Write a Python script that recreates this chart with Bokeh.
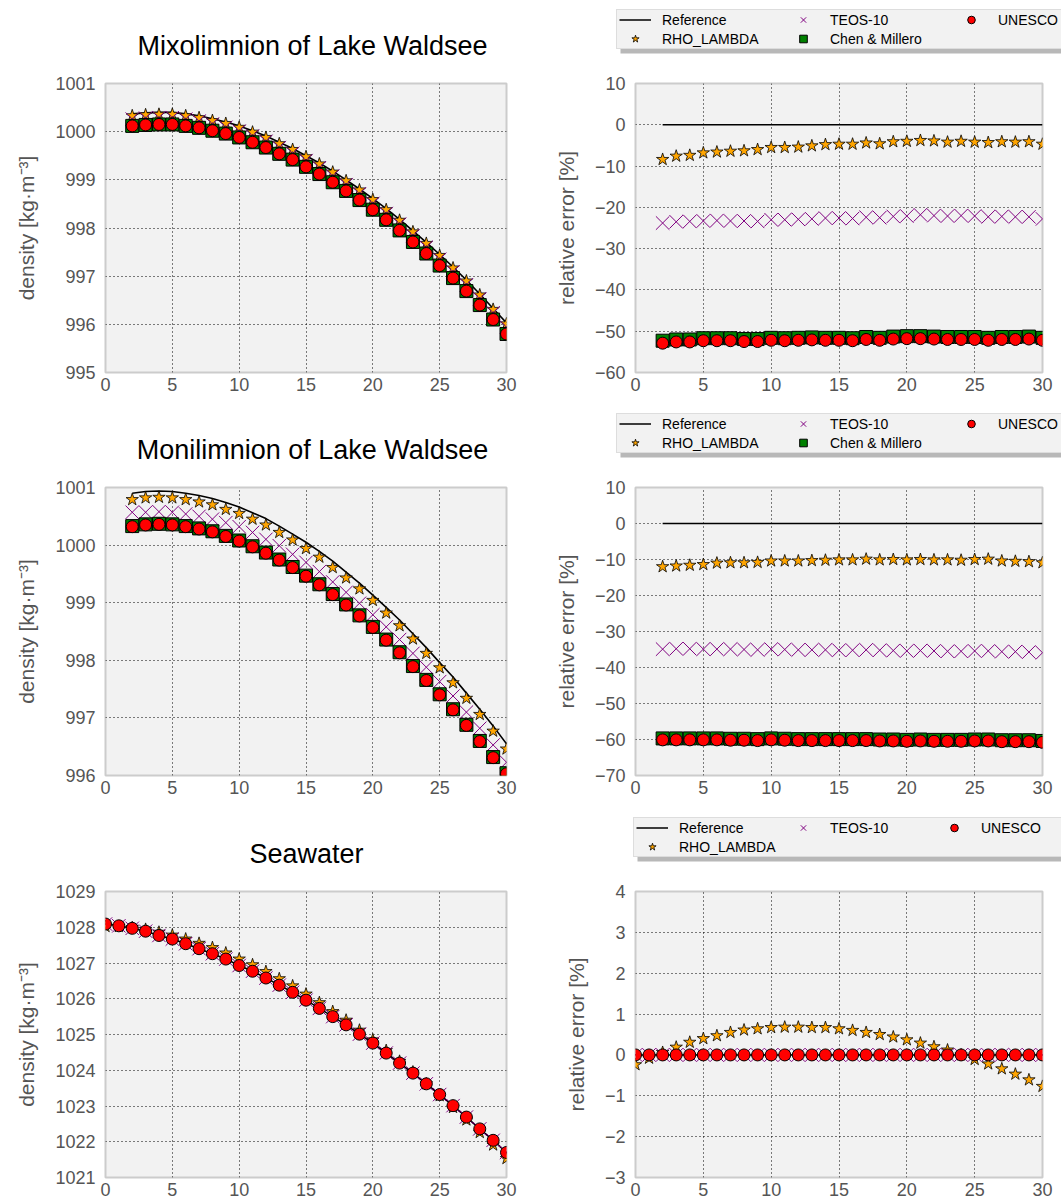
from bokeh.plotting import figure
from bokeh.models import (Range1d, FixedTicker, CustomJSTickFormatter, Legend, LegendItem, Label)
from bokeh.layouts import column, row
from bokeh.embed import file_html
from bokeh.resources import INLINE

# ---------------- data ----------------
T_lake = [2, 3, 4, 5, 6, 7, 8, 9, 10, 11, 12, 13, 14, 15, 16, 17, 18, 19, 20,
          21, 22, 23, 24, 25, 26, 27, 28, 29, 30]
T_sea = [0, 1, 2, 3, 4, 5, 6, 7, 8, 9, 10, 11, 12, 13, 14, 15, 16, 17, 18, 19, 20,
         21, 22, 23, 24, 25, 26, 27, 28, 29, 30]
x_ticks = [0, 5, 10, 15, 20, 25, 30]

# Mixolimnion density
mix_ref = [1000.37, 1000.39, 1000.40, 1000.40, 1000.37, 1000.33, 1000.27, 1000.20, 1000.12, 1000.02,
           999.91, 999.78, 999.65, 999.50, 999.35, 999.18, 999.00, 998.81, 998.61, 998.40,
           998.18, 997.94, 997.70, 997.45, 997.19, 996.92, 996.63, 996.33, 996.03]
mix_rho = [1000.33, 1000.35, 1000.36, 1000.36, 1000.33, 1000.29, 1000.23, 1000.17, 1000.09, 999.99,
           999.88, 999.75, 999.63, 999.48, 999.33, 999.16, 998.98, 998.79, 998.59, 998.38,
           998.16, 997.92, 997.68, 997.43, 997.17, 996.90, 996.61, 996.31, 996.01]
mix_teos = [1000.26, 1000.28, 1000.29, 1000.29, 1000.26, 1000.22, 1000.16, 1000.09, 1000.01, 999.91,
            999.80, 999.67, 999.55, 999.40, 999.25, 999.08, 998.90, 998.71, 998.51, 998.30,
            998.08, 997.84, 997.60, 997.35, 997.09, 996.82, 996.53, 996.24, 995.94]
mix_chen = [1000.12, 1000.14, 1000.15, 1000.15, 1000.12, 1000.08, 1000.02, 999.96, 999.88, 999.78,
            999.67, 999.54, 999.42, 999.27, 999.12, 998.95, 998.77, 998.58, 998.38, 998.17,
            997.95, 997.71, 997.47, 997.22, 996.96, 996.69, 996.40, 996.10, 995.80]
mix_unesco = [1000.12, 1000.14, 1000.15, 1000.15, 1000.12, 1000.08, 1000.02, 999.96, 999.88, 999.78,
              999.67, 999.54, 999.42, 999.27, 999.12, 998.95, 998.77, 998.58, 998.38, 998.17,
              997.95, 997.71, 997.47, 997.22, 996.96, 996.69, 996.40, 996.10, 995.80]

# Mixolimnion relative error [%]
mix_err_ref = [0.0] * 29
mix_err_rho = [-8.4, -7.6, -7.4, -6.8, -6.6, -6.4, -6.3, -6.0, -5.5, -5.5, -5.4, -5.1, -4.8, -4.7,
               -4.7, -4.4, -4.6, -4.1, -4.0, -3.8, -3.9, -4.2, -4.0, -4.2, -4.3, -4.1, -4.2, -4.1, -4.7]
mix_err_teos = [-23.8, -23.5, -23.4, -23.3, -23.2, -23.3, -23.3, -23.4, -23.0, -23.0, -22.9, -22.8,
                -22.6, -22.6, -22.7, -22.4, -22.5, -22.2, -22.1, -21.8, -22.0, -22.1, -22.0, -22.1,
                -22.3, -22.2, -22.3, -22.3, -22.8]
mix_err_chen = [-52.3, -52.0, -52.0, -51.7, -51.7, -51.7, -51.9, -51.9, -51.6, -51.7, -51.6, -51.5,
                -51.6, -51.6, -51.7, -51.4, -51.6, -51.3, -51.2, -51.2, -51.3, -51.4, -51.4, -51.4,
                -51.6, -51.4, -51.4, -51.3, -51.6]
mix_err_unesco = [-52.9, -52.6, -52.6, -52.3, -52.3, -52.3, -52.5, -52.5, -52.2, -52.3, -52.2, -52.1,
                  -52.2, -52.2, -52.3, -52.0, -52.2, -51.9, -51.8, -51.8, -51.9, -52.0, -52.0, -52.0,
                  -52.2, -52.0, -52.0, -51.9, -52.2]

# Monilimnion density
mon_ref = [1000.90, 1000.93, 1000.94, 1000.93, 1000.90, 1000.86, 1000.81, 1000.74, 1000.66, 1000.56,
           1000.46, 1000.33, 1000.19, 1000.05, 999.89, 999.72, 999.53, 999.34, 999.13, 998.92,
           998.70, 998.46, 998.22, 997.96, 997.71, 997.43, 997.15, 996.86, 996.55]
mon_rho = [1000.79, 1000.82, 1000.83, 1000.82, 1000.79, 1000.75, 1000.70, 1000.62, 1000.55, 1000.45,
           1000.35, 1000.22, 1000.09, 999.94, 999.79, 999.61, 999.43, 999.24, 999.04, 998.82,
           998.60, 998.37, 998.12, 997.87, 997.61, 997.34, 997.06, 996.77, 996.46]
mon_teos = [1000.57, 1000.57, 1000.58, 1000.57, 1000.54, 1000.50, 1000.45, 1000.39, 1000.32, 1000.22,
            1000.10, 999.99, 999.84, 999.70, 999.54, 999.36, 999.18, 998.99, 998.79, 998.58,
            998.36, 998.12, 997.88, 997.63, 997.38, 997.10, 996.82, 996.53, 996.23]
mon_chen = [1000.33, 1000.36, 1000.37, 1000.36, 1000.33, 1000.29, 1000.24, 1000.16, 1000.08, 999.98,
            999.87, 999.75, 999.62, 999.47, 999.32, 999.15, 998.97, 998.78, 998.58, 998.36,
            998.14, 997.90, 997.66, 997.41, 997.15, 996.88, 996.60, 996.32, 996.04]
mon_unesco = [1000.32, 1000.35, 1000.36, 1000.35, 1000.32, 1000.28, 1000.23, 1000.15, 1000.07, 999.97,
              999.86, 999.74, 999.61, 999.46, 999.31, 999.14, 998.96, 998.77, 998.57, 998.35,
              998.13, 997.89, 997.65, 997.40, 997.14, 996.87, 996.59, 996.31, 996.03]

# Monilimnion relative error [%]
mon_err_ref = [0.0] * 29
mon_err_rho = [-12.0, -11.8, -11.6, -11.4, -11.0, -10.9, -10.9, -10.8, -10.4, -10.4, -10.4, -10.3,
               -10.2, -10.1, -10.1, -9.9, -10.1, -10.0, -10.1, -10.0, -10.1, -10.1, -10.2, -10.0,
               -9.9, -10.4, -10.5, -10.6, -10.9]
mon_err_teos = [-34.9, -34.8, -34.8, -34.9, -34.9, -34.9, -35.0, -35.1, -34.9, -35.0, -35.1, -35.1,
                -35.1, -35.2, -35.2, -35.1, -35.2, -35.3, -35.4, -35.3, -35.4, -35.5, -35.5, -35.4,
                -35.4, -35.6, -35.6, -35.7, -35.9]
mon_err_chen = [-59.7, -59.7, -59.7, -59.7, -59.7, -59.8, -59.8, -59.9, -59.7, -59.8, -59.9, -59.9,
                -59.9, -59.9, -59.9, -59.9, -60.0, -60.0, -60.1, -60.0, -60.1, -60.1, -60.1, -60.0,
                -60.0, -60.2, -60.2, -60.2, -60.4]
mon_err_unesco = [-60.1, -60.1, -60.1, -60.1, -60.1, -60.2, -60.2, -60.3, -60.1, -60.2, -60.3, -60.3,
                  -60.3, -60.3, -60.3, -60.3, -60.4, -60.4, -60.5, -60.4, -60.5, -60.5, -60.5, -60.4,
                  -60.4, -60.6, -60.6, -60.6, -60.8]

# Seawater density
sea_ref = [1028.09, 1028.04, 1027.97, 1027.89, 1027.77, 1027.67, 1027.54, 1027.40, 1027.26, 1027.11,
           1026.93, 1026.77, 1026.58, 1026.38, 1026.18, 1025.96, 1025.73, 1025.50, 1025.27, 1025.01,
           1024.76, 1024.48, 1024.20, 1023.92, 1023.62, 1023.32, 1023.01, 1022.69, 1022.36, 1022.04,
           1021.70]
sea_rho = [1028.02, 1028.02, 1027.99, 1027.94, 1027.86, 1027.78, 1027.67, 1027.55, 1027.43, 1027.28,
           1027.11, 1026.95, 1026.76, 1026.56, 1026.36, 1026.13, 1025.89, 1025.64, 1025.40, 1025.12,
           1024.85, 1024.55, 1024.25, 1023.95, 1023.62, 1023.29, 1022.96, 1022.61, 1022.26, 1021.91,
           1021.53]
sea_teos = [1028.09, 1028.04, 1027.97, 1027.89, 1027.77, 1027.67, 1027.54, 1027.40, 1027.26, 1027.11,
            1026.93, 1026.77, 1026.58, 1026.38, 1026.18, 1025.96, 1025.73, 1025.50, 1025.27, 1025.01,
            1024.76, 1024.48, 1024.20, 1023.92, 1023.62, 1023.32, 1023.01, 1022.69, 1022.36, 1022.04,
            1021.70]
sea_unesco = [1028.09, 1028.04, 1027.97, 1027.89, 1027.77, 1027.67, 1027.54, 1027.40, 1027.26, 1027.11,
              1026.93, 1026.77, 1026.58, 1026.38, 1026.18, 1025.96, 1025.73, 1025.50, 1025.27, 1025.01,
              1024.76, 1024.48, 1024.20, 1023.92, 1023.62, 1023.32, 1023.01, 1022.69, 1022.36, 1022.04,
              1021.70]

# Seawater relative error [%]
sea_err_ref = [0.0] * 31
sea_err_rho = [-0.24, -0.08, 0.06, 0.19, 0.31, 0.40, 0.47, 0.55, 0.61, 0.64, 0.67, 0.68, 0.68, 0.67,
               0.67, 0.64, 0.60, 0.55, 0.50, 0.44, 0.37, 0.29, 0.20, 0.12, 0.0, -0.11, -0.22, -0.34,
               -0.47, -0.61, -0.77]
sea_err_teos = [0.0] * 31
sea_err_unesco = [0.0] * 31

# ---------------- styling helpers ----------------
FONT = "Liberation Sans"
GREY = "#555555"
HEAD_H = 72

STYLE = {
    "ref": dict(line_color="black", line_width=1.6),
    "rho": dict(marker="star", size=13, fill_color="#FFA500", line_color="black", line_width=0.8),
    "teos": dict(marker="x", size=19, line_color="#800080", line_width=1),
    "chen": dict(marker="square", size=13, fill_color="#008000", line_color="black", line_width=1),
    "unesco": dict(marker="circle", size=12, fill_color="#FF0000", line_color="black", line_width=1),
}


def make_fig(frame_h, bottom, left_col, yr, yticks, ylabel):
    if left_col:
        fw, bl, br = 401, 105, 24
    else:
        fw, bl, br = 407, 105, 19
    p = figure(frame_width=fw, frame_height=frame_h, min_border_left=bl, min_border_right=br,
               min_border_top=83 - HEAD_H, min_border_bottom=bottom, output_backend="svg",
               toolbar_location=None, x_range=Range1d(0, 30), y_range=Range1d(*yr))
    p.background_fill_color = "#F2F2F2"
    p.border_fill_color = "white"
    p.outline_line_color = "#CCCCCC"
    p.outline_line_width = 2
    p.xaxis.ticker = FixedTicker(ticks=x_ticks)
    p.yaxis.ticker = FixedTicker(ticks=yticks)
    p.yaxis.formatter = CustomJSTickFormatter(
        code="return tick < 0 ? '\\u2212' + Math.abs(tick) : String(tick);")
    p.axis.axis_line_color = None
    p.axis.major_tick_line_color = None
    p.axis.minor_tick_line_color = None
    p.axis.major_tick_out = 0
    p.axis.major_tick_in = 0
    p.axis.major_label_text_font = FONT
    p.axis.major_label_text_font_size = "18px"
    p.axis.major_label_text_color = GREY
    p.xaxis.major_label_standoff = 5
    p.yaxis.major_label_standoff = 10
    p.yaxis.axis_label = ylabel
    p.yaxis.axis_label_text_font = FONT
    p.yaxis.axis_label_text_font_size = "21px"
    p.yaxis.axis_label_text_font_style = "normal"
    p.yaxis.axis_label_text_color = GREY
    p.yaxis.axis_label_standoff = 14
    p.grid.grid_line_color = "black"
    p.grid.grid_line_dash = "1 3"
    p.grid.grid_line_width = 1
    return p


def draw(p, x, ref, rho, teos, chen, unesco):
    p.line(x, ref, **STYLE["ref"])
    p.scatter(x, rho, **STYLE["rho"])
    p.scatter(x, teos, **STYLE["teos"])
    if chen is not None:
        p.scatter(x, chen, **STYLE["chen"])
    p.scatter(x, unesco, **STYLE["unesco"])


def header(title, title_x, with_chen, leg_x, label_w):
    # full-width strip (pixel data units) holding the panel title and the legend
    h = figure(width=1061, height=HEAD_H, min_border=0, output_backend="svg", toolbar_location=None,
               x_axis_location=None, y_axis_location=None,
               x_range=Range1d(0, 1061), y_range=Range1d(0, HEAD_H))
    h.grid.visible = False
    h.outline_line_color = None
    h.background_fill_color = "white"
    h.border_fill_color = "white"
    h.add_layout(Label(x=title_x, y=HEAD_H - 45, text=title, text_align="center",
                       text_baseline="middle", text_font=FONT, text_font_size="27px",
                       text_color="black"))
    # legend proxies (kept outside the visible range)
    px, py = [-100], [-100]
    items = [LegendItem(label="Reference", renderers=[h.line([-100, -90], [-100, -100], **STYLE["ref"])]),
             LegendItem(label="RHO_LAMBDA", renderers=[h.scatter(px, py, **STYLE["rho"])]),
             LegendItem(label="TEOS-10", renderers=[h.scatter(px, py, **STYLE["teos"])])]
    if with_chen:
        items.append(LegendItem(label="Chen & Millero", renderers=[h.scatter(px, py, **STYLE["chen"])]))
    else:
        items.append(LegendItem(label=" ", renderers=[h.line([], [], line_alpha=0)]))
    items.append(LegendItem(label="UNESCO", renderers=[h.scatter(px, py, **STYLE["unesco"])]))
    # soft shadow under the legend box
    h.quad(left=[leg_x + 4], right=[leg_x + 1000], top=[HEAD_H - 15], bottom=[HEAD_H - 53],
           fill_color="#B8B8B8", line_color=None)
    leg = Legend(items=items, location=(leg_x, HEAD_H - 49), orientation="vertical", nrows=2,
                 glyph_width=32, glyph_height=19, label_standoff=11, spacing=0, padding=(2, 0),
                 margin=0, label_height=16, label_width=label_w,
                 label_text_font=FONT, label_text_font_size="14px", label_text_color="black",
                 background_fill_color="#F2F2F2", background_fill_alpha=1,
                 border_line_color="#C8C8C8", border_line_width=1.5)
    h.add_layout(leg)
    return h


DLABEL = "density [kg·m⁻³]"
ELABEL = "relative error [%]"

# Row 1
h1 = header("Mixolimnion of Lake Waldsee", 312, True, 616, 125)
p1 = make_fig(289, 32, True, (995, 1001), [995, 996, 997, 998, 999, 1000, 1001], DLABEL)
draw(p1, T_lake, mix_ref, mix_rho, mix_teos, mix_chen, mix_unesco)
p2 = make_fig(289, 32, False, (-60, 10), [-60, -50, -40, -30, -20, -10, 0, 10], ELABEL)
draw(p2, T_lake, mix_err_ref, mix_err_rho, mix_err_teos, mix_err_chen, mix_err_unesco)

# Row 2
h2 = header("Monilimnion of Lake Waldsee", 312, True, 616, 125)
p3 = make_fig(288, 33, True, (996, 1001), [996, 997, 998, 999, 1000, 1001], DLABEL)
draw(p3, T_lake, mon_ref, mon_rho, mon_teos, mon_chen, mon_unesco)
p4 = make_fig(288, 33, False, (-70, 10), [-70, -60, -50, -40, -30, -20, -10, 0, 10], ELABEL)
draw(p4, T_lake, mon_err_ref, mon_err_rho, mon_err_teos, mon_err_chen, mon_err_unesco)

# Row 3
h3 = header("Seawater", 306, False, 633, 108)
p5 = make_fig(286, 27, True, (1021, 1029), [1021, 1022, 1023, 1024, 1025, 1026, 1027, 1028, 1029],
              DLABEL)
draw(p5, T_sea, sea_ref, sea_rho, sea_teos, None, sea_unesco)
p6 = make_fig(286, 27, False, (-3, 4), [-3, -2, -1, 0, 1, 2, 3, 4], ELABEL)
draw(p6, T_sea, sea_err_ref, sea_err_rho, sea_err_teos, None, sea_err_unesco)

layout = column(h1, row(p1, p2), h2, row(p3, p4), h3, row(p5, p6))
open("out.html", "w").write(file_html(layout, INLINE))
